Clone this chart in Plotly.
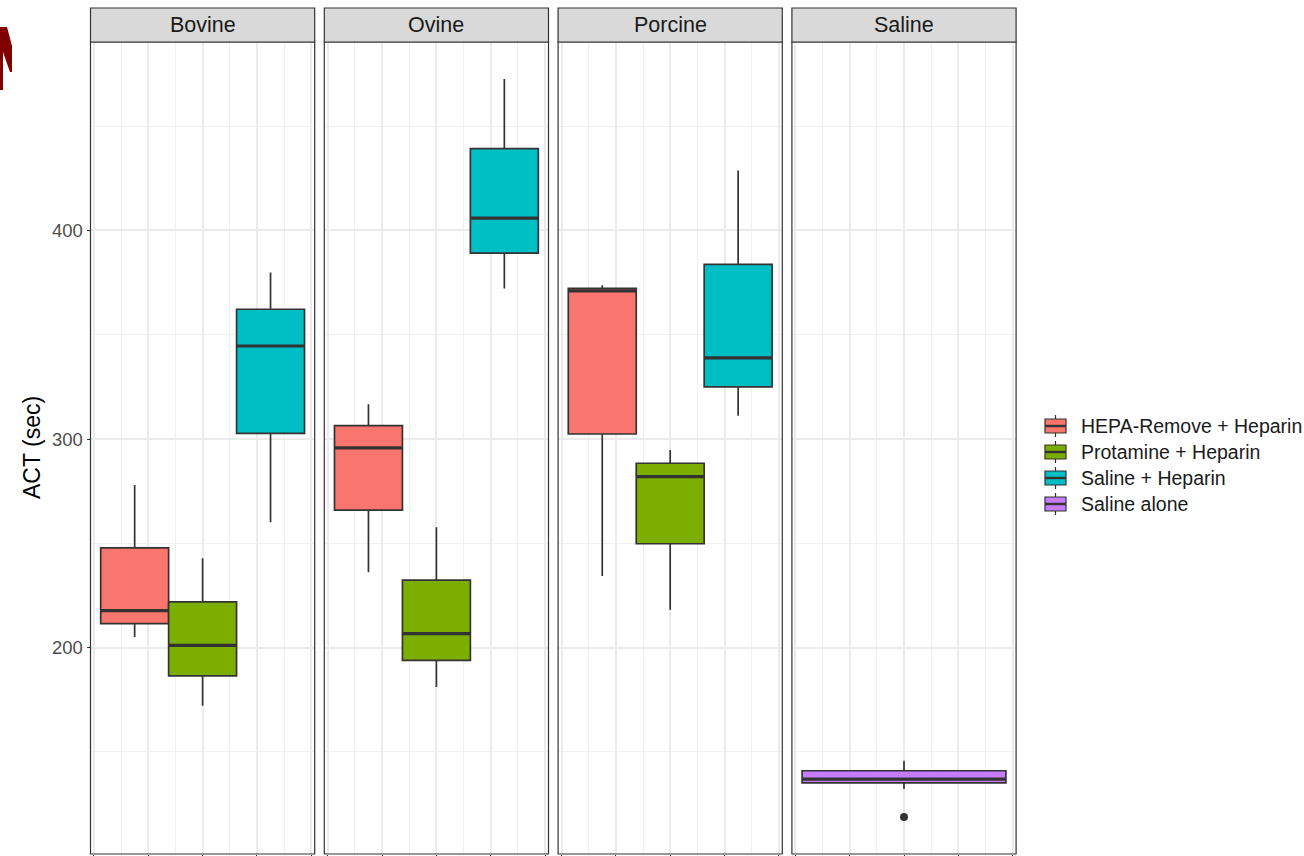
import plotly.graph_objects as go

# ACT (sec) box summaries per species and treatment
species = ["Bovine", "Ovine", "Porcine", "Saline"]
treatments = ["HEPA-Remove + Heparin", "Protamine + Heparin", "Saline + Heparin", "Saline alone"]
colors = ["#F8766D", "#7CAE00", "#00BFC4", "#C77CFF"]

# per panel: list of (treatment index, lower whisker, q1, median, q3, upper whisker)
bovine = [(0, 205.1, 211.5, 217.8, 247.8, 278.0),
          (1, 172.1, 186.5, 201.1, 221.9, 242.9),
          (2, 260.1, 302.7, 344.6, 362.2, 379.8)]
ovine = [(0, 236.2, 265.9, 295.8, 306.4, 316.7),
         (1, 181.2, 193.9, 206.7, 232.4, 257.7),
         (2, 372.1, 389.1, 405.9, 439.2, 472.6)]
porcine = [(0, 234.3, 302.4, 371.0, 372.2, 373.7),
           (1, 218.2, 249.8, 282.0, 288.4, 294.7),
           (2, 311.1, 325.0, 338.9, 383.7, 428.7)]
saline = [(3, 132.2, 135.2, 137.0, 141.0, 145.8)]
saline_outliers = [118.8]

panels = [bovine, ovine, porcine, saline]
outliers = [[], [], [], saline_outliers]

W, H = 1304, 856
FONT = "Liberation Sans, Arial, sans-serif"
EDGE = "#333333"

panel_left0 = 90.5
panel_step = 233.8
panel_w = 224.2
plot_top, plot_bottom = 42, 854
strip_top = 8

y_range = [101.1, 490.3]
x_range = [-0.4125, 0.4125]

fig = go.Figure()
shapes = []
annotations = []

def px_x(v):
    return v / W

def px_y(v):
    return (H - v) / H

for i, (name, boxes) in enumerate(zip(species, panels)):
    n = "" if i == 0 else str(i + 1)
    xa, ya = "x" + n, "y" + n
    left = panel_left0 + i * panel_step
    dodge_w = 0.75 / len(boxes)
    for j, (t, lo, q1, med, q3, hi) in enumerate(boxes):
        pos = -0.375 + dodge_w * (j + 0.5)
        fig.add_trace(go.Box(
            x=[pos], q1=[q1], median=[med], q3=[q3],
            lowerfence=[lo], upperfence=[hi],
            width=dodge_w, whiskerwidth=0,
            fillcolor=colors[t], line=dict(color=EDGE, width=1.7),
            boxpoints=False, showlegend=False, hoverinfo="skip",
            xaxis=xa, yaxis=ya))
        # thicker median bar
        fig.add_trace(go.Scatter(
            x=[pos - dodge_w / 2, pos + dodge_w / 2], y=[med, med],
            mode="lines", line=dict(color=EDGE, width=3.2),
            showlegend=False, hoverinfo="skip", xaxis=xa, yaxis=ya))
        if outliers[i]:
            fig.add_trace(go.Scatter(
                x=[pos] * len(outliers[i]), y=outliers[i], mode="markers",
                marker=dict(color=EDGE, size=8), showlegend=False,
                hoverinfo="skip", xaxis=xa, yaxis=ya))

    dom = [px_x(left), px_x(left + panel_w)]
    fig.update_layout(**{
        "xaxis" + n: dict(
            domain=dom, range=x_range, anchor=ya,
            tickmode="linear", tick0=0, dtick=0.2,
            showticklabels=False, ticks="outside", ticklen=3,
            tickcolor=EDGE, tickwidth=1,
            showgrid=True, gridcolor="#EBEBEB", gridwidth=1.6,
            minor=dict(dtick=0.1, tick0=0, showgrid=True,
                       gridcolor="#F0F0F0", gridwidth=1.0),
            zeroline=False, showline=False, mirror=False),
        "yaxis" + n: dict(
            domain=[px_y(plot_bottom), px_y(plot_top)], range=y_range,
            anchor=xa, tickmode="linear", tick0=0, dtick=100,
            showticklabels=(i == 0), ticks="outside" if i == 0 else "",
            ticklen=3, tickcolor=EDGE,
            tickfont=dict(family=FONT, size=18.5, color="#4D4D4D"),
            showgrid=True, gridcolor="#EBEBEB", gridwidth=1.6,
            minor=dict(dtick=50, tick0=0, showgrid=True,
                       gridcolor="#F0F0F0", gridwidth=1.0),
            zeroline=False, showline=False, automargin=False),
    })

    # panel border
    shapes.append(dict(type="rect", xref="paper", yref="paper",
                       x0=dom[0], x1=dom[1], y0=px_y(plot_bottom), y1=px_y(plot_top),
                       line=dict(color=EDGE, width=1.2), fillcolor="rgba(0,0,0,0)",
                       layer="above"))
    # facet strip
    shapes.append(dict(type="rect", xref="paper", yref="paper",
                       x0=dom[0], x1=dom[1], y0=px_y(plot_top), y1=px_y(strip_top),
                       line=dict(color=EDGE, width=1.2), fillcolor="#D9D9D9"))
    annotations.append(dict(text=name, xref="paper", yref="paper",
                            x=(dom[0] + dom[1]) / 2, y=px_y((plot_top + strip_top) / 2),
                            xanchor="center", yanchor="middle", showarrow=False,
                            font=dict(family=FONT, size=21.5, color="#1A1A1A")))

# y-axis title
annotations.append(dict(text="ACT (sec)", xref="paper", yref="paper",
                        x=px_x(32), y=px_y((plot_top + plot_bottom) / 2),
                        textangle=-90, xanchor="center", yanchor="middle",
                        showarrow=False, font=dict(family=FONT, size=23, color="#000000")))

# legend keys drawn as miniature boxplots
key_x0, key_x1 = 1045, 1066
for k, (label, col) in enumerate(zip(treatments, colors)):
    cy = 426 + k * 26
    xm = (key_x0 + key_x1) / 2
    shapes.append(dict(type="line", xref="paper", yref="paper",
                       x0=px_x(xm), x1=px_x(xm), y0=px_y(cy + 11), y1=px_y(cy - 11),
                       line=dict(color=EDGE, width=1.2)))
    shapes.append(dict(type="rect", xref="paper", yref="paper",
                       x0=px_x(key_x0), x1=px_x(key_x1), y0=px_y(cy + 7), y1=px_y(cy - 7),
                       line=dict(color=EDGE, width=1.2), fillcolor=col))
    shapes.append(dict(type="line", xref="paper", yref="paper",
                       x0=px_x(key_x0), x1=px_x(key_x1), y0=px_y(cy), y1=px_y(cy),
                       line=dict(color=EDGE, width=2.4)))
    annotations.append(dict(text=label, xref="paper", yref="paper",
                            x=px_x(1079), y=px_y(cy), xanchor="left", yanchor="middle",
                            showarrow=False,
                            font=dict(family=FONT, size=19.5, color="#1A1A1A")))

# dark red logo fragment at the top-left edge
shapes.append(dict(type="path", xref="paper", yref="paper",
                   path="M {} {} L {} {} L {} {} L {} {} L {} {} L {} {} L {} {} L {} {} Z".format(
                       px_x(0), px_y(27), px_x(7), px_y(27), px_x(12), px_y(46),
                       px_x(12), px_y(72), px_x(10), px_y(72), px_x(3), px_y(52),
                       px_x(3), px_y(90), px_x(0), px_y(90)),
                   fillcolor="#800000", line=dict(width=0)))

fig.update_layout(
    width=W, height=H,
    margin=dict(l=0, r=0, t=0, b=0),
    paper_bgcolor="white", plot_bgcolor="white",
    boxmode="overlay", showlegend=False,
    shapes=shapes, annotations=annotations,
    font=dict(family=FONT),
)

fig.write_html("out.html")
